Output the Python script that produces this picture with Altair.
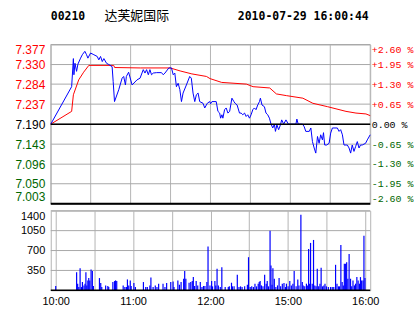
import altair as alt
import pandas as pd

# ---------------- header text ----------------
stock_code = "00210"
stock_name = "达芙妮国际"
timestamp = "2010-07-29 16:00:44"

# ---------------- axes ----------------
prev_close = 7.19
price_ticks = [7.003, 7.050, 7.096, 7.143, 7.190, 7.237, 7.284, 7.330, 7.377]
pct_ticks = [-2.60, -1.95, -1.30, -0.65, 0.00, 0.65, 1.30, 1.95, 2.60]
vol_ticks = [350, 700, 1050, 1400]
grid_minutes = [0, 30, 60, 90, 120, 150, 180, 210, 240]
time_tick_minutes = [0, 60, 120, 180, 240]
time_tick_labels = ["10:00", "11:00", "12:00", "15:00", "16:00"]

# ---------------- series (minute of session, value) ----------------
price_points = [
    (0, 7.190), (15.7, 7.278), (17.0, 7.344), (17.4, 7.306), (18.2, 7.333), (19.4, 7.314),
    (20.4, 7.331), (22.4, 7.345), (23.7, 7.353), (25.6, 7.361), (26.9, 7.353), (27.9, 7.345),
    (29.9, 7.357), (32.4, 7.353), (34.9, 7.349), (36.1, 7.341), (37.4, 7.349), (38.7, 7.337),
    (39.9, 7.344), (41.9, 7.333), (43.6, 7.330), (46.1, 7.325), (46.9, 7.290), (47.9, 7.243),
    (51.1, 7.271), (53.6, 7.298), (54.8, 7.302), (56.1, 7.282), (56.8, 7.302), (58.5, 7.312),
    (61.1, 7.282), (64.8, 7.294), (67.1, 7.298), (69.5, 7.318), (70.8, 7.310), (72.0, 7.318),
    (73.3, 7.306), (74.5, 7.318), (75.7, 7.306), (77.0, 7.310), (79.5, 7.311), (83.2, 7.311),
    (84.5, 7.306), (85.8, 7.310), (88.7, 7.322), (90.7, 7.322), (92.0, 7.306), (93.2, 7.310),
    (94.4, 7.278), (95.7, 7.286), (97.0, 7.271), (98.2, 7.243), (99.4, 7.263), (101.9, 7.282),
    (104.4, 7.302), (105.6, 7.298), (106.9, 7.263), (108.2, 7.243), (109.4, 7.259), (110.7, 7.263),
    (111.9, 7.243), (114.4, 7.239), (115.7, 7.228), (117.6, 7.239), (119.4, 7.243), (120.1, 7.238),
    (121.1, 7.243), (124.3, 7.243), (125.6, 7.220), (126.9, 7.216), (127.6, 7.204), (128.6, 7.212),
    (129.3, 7.204), (130.6, 7.224), (131.8, 7.228), (133.1, 7.216), (134.4, 7.220), (136.1, 7.251),
    (137.6, 7.243), (138.5, 7.239), (140.0, 7.235), (141.8, 7.216), (143.0, 7.216), (144.3, 7.212),
    (145.6, 7.216), (146.8, 7.208), (148.0, 7.212), (149.3, 7.204), (150.5, 7.212), (151.8, 7.224),
    (153.0, 7.228), (154.2, 7.224), (155.5, 7.235), (156.8, 7.243), (157.5, 7.251), (158.7, 7.235),
    (160.5, 7.231), (161.7, 7.216), (163.0, 7.212), (164.3, 7.204), (165.5, 7.190), (166.8, 7.181),
    (168.0, 7.190), (168.8, 7.173), (169.9, 7.188), (171.2, 7.177), (172.5, 7.188), (173.5, 7.200),
    (175.0, 7.190), (176.7, 7.200), (178.5, 7.190), (184.2, 7.190), (184.9, 7.202), (185.9, 7.190),
    (189.2, 7.190), (190.4, 7.184), (191.6, 7.173), (194.2, 7.173), (195.4, 7.181), (196.6, 7.149),
    (197.9, 7.134), (199.1, 7.122), (200.4, 7.161), (201.6, 7.145), (202.8, 7.165), (204.1, 7.153),
    (204.9, 7.170), (205.8, 7.141), (207.3, 7.141), (209.1, 7.145), (210.3, 7.169), (211.6, 7.181),
    (215.3, 7.181), (216.6, 7.173), (217.8, 7.177), (219.1, 7.165), (220.3, 7.141), (222.8, 7.141),
    (224.1, 7.134), (225.3, 7.122), (226.5, 7.141), (227.8, 7.126), (229.0, 7.137), (230.3, 7.149),
    (231.6, 7.134), (232.7, 7.141), (234.0, 7.141), (236.5, 7.145), (237.8, 7.153), (240, 7.165),
]

avg_points = [
    (0, 7.190), (15.7, 7.220), (17.0, 7.259), (21.0, 7.294), (24.7, 7.312), (28.6, 7.328),
    (47.3, 7.328), (48.0, 7.323), (67.3, 7.322), (89.7, 7.322), (97.2, 7.315), (106.0, 7.308),
    (117.0, 7.302), (119.6, 7.297), (128.4, 7.288), (147.0, 7.284), (152.0, 7.278), (164.5, 7.275),
    (169.5, 7.261), (177.0, 7.257), (189.4, 7.251), (196.9, 7.239), (208.0, 7.231), (221.8, 7.220),
    (229.3, 7.216), (236.8, 7.214), (240, 7.210),
]

volume_points = [
    (0, 76), (16.2, 320), (17.0, 117), (17.9, 58), (18.9, 390), (20.0, 58), (20.7, 146),
    (21.9, 87), (22.7, 117), (23.4, 320), (24.1, 87), (24.9, 175), (25.6, 216), (26.4, 175),
    (27.4, 367), (28.4, 338), (29.2, 76), (33.9, 216), (34.9, 128), (35.7, 58), (38.7, 87),
    (40.4, 76), (41.1, 58), (44.3, 146), (45.6, 163), (46.4, 175), (47.3, 163), (52.3, 87),
    (53.6, 58), (54.8, 58), (55.6, 192), (56.6, 87), (57.8, 175), (58.5, 76), (60.6, 128),
    (61.8, 58), (68.0, 146), (69.8, 58), (71.0, 58), (73.0, 87), (73.8, 228), (75.5, 58),
    (77.2, 87), (78.5, 58), (79.8, 117), (83.2, 117), (84.7, 58), (86.0, 128), (89.2, 146),
    (91.0, 157), (91.7, 58), (94.7, 175), (95.9, 99), (97.2, 146), (99.2, 204), (100.0, 338),
    (100.9, 204), (103.4, 134), (104.7, 146), (105.9, 163), (106.7, 233), (107.7, 76),
    (108.9, 163), (110.1, 87), (112.1, 146), (113.4, 58), (114.6, 76), (115.7, 76), (117.2, 146),
    (118.1, 770), (119.6, 87), (120.9, 163), (121.6, 70), (123.4, 163), (124.1, 87), (125.1, 379),
    (126.1, 87), (127.6, 58), (128.8, 408), (131.4, 58), (133.8, 58), (134.6, 70), (136.3, 134),
    (137.0, 70), (138.3, 70), (140.8, 274), (142.1, 58), (143.3, 70), (144.5, 58), (146.5, 70),
    (148.6, 99), (149.5, 583), (150.8, 58), (152.0, 70), (153.3, 58), (154.5, 117), (155.7, 70),
    (157.0, 117), (157.8, 146), (158.5, 163), (159.5, 87), (160.7, 70), (162.0, 274), (163.2, 117),
    (164.0, 163), (165.0, 70), (166.2, 1050), (166.9, 437), (167.7, 99), (168.4, 390), (169.5, 204),
    (170.7, 58), (172.0, 87), (173.2, 216), (174.4, 70), (175.7, 117), (177.0, 128), (178.2, 58),
    (178.9, 117), (180.2, 70), (181.5, 163), (182.7, 87), (183.9, 117), (184.9, 338), (186.4, 70),
    (187.7, 192), (188.6, 87), (190.1, 1330), (191.2, 146), (191.9, 87), (193.1, 70), (194.4, 117),
    (195.1, 87), (196.1, 729), (196.9, 117), (197.6, 834), (198.9, 117), (199.9, 886), (200.9, 87),
    (201.9, 70), (202.8, 379), (203.9, 70), (204.9, 117), (205.8, 397), (206.9, 70), (207.9, 87),
    (208.8, 117), (209.9, 70), (211.4, 58), (213.1, 58), (214.4, 58), (215.6, 58), (217.0, 449),
    (218.1, 117), (219.3, 70), (220.0, 70), (221.1, 799), (222.1, 146), (223.0, 87), (223.8, 466),
    (224.8, 466), (225.6, 496), (226.5, 204), (227.5, 641), (228.6, 204), (229.5, 70), (230.5, 175),
    (231.6, 87), (232.5, 117), (233.5, 233), (234.5, 175), (235.5, 117), (236.3, 233), (237.2, 175),
    (238.3, 175), (239.0, 962), (239.8, 216),
]

RED = "#ff0000"
GREEN = "#006600"
BLUE = "#0000ff"
GRID = "#b4b4b4"
HGRID = "#a8a8a8"

price_df = pd.DataFrame(price_points, columns=["minute", "price"])
avg_df = pd.DataFrame(avg_points, columns=["minute", "avg"])
vol_df = pd.DataFrame(volume_points, columns=["minute", "volume"])
pct_df = pd.DataFrame({"pct": pct_ticks})
ref_df = pd.DataFrame({"ref": [prev_close, price_ticks[0]], "w": [1.5, 2.0]})
pgrid_df = pd.DataFrame({"gp": price_ticks, "gw": [1.0] * len(price_ticks)})
vgrid_df = pd.DataFrame({"gv": vol_ticks, "gw": [1.0] * len(vol_ticks)})
xgrid_df = pd.DataFrame({"gm": grid_minutes})
header_df = pd.DataFrame({"t": [0]})

W = 321
PH = 160
VH = 80

x_scale = alt.Scale(domain=[0, 240], nice=False, zero=False)
p_scale = alt.Scale(domain=[price_ticks[0], price_ticks[-1]], nice=False, zero=False)
v_scale = alt.Scale(domain=[0, vol_ticks[-1]], nice=False, zero=False)

lbl_js = "[" + ",".join(f"'{s}'" for s in time_tick_labels) + "]"
min_js = "[" + ",".join(str(m) for m in time_tick_minutes) + "]"
time_label_expr = (
    f"indexof({min_js}, datum.value) >= 0 ? {lbl_js}[indexof({min_js}, datum.value)] : ''"
)

price_axis = alt.Axis(
    values=price_ticks, tickCount=50, labelExpr="format(datum.value, '.3f')", title=None,
    domain=False, ticks=False, grid=False,
    labelFlush=True, labelOverlap=False,
    labelPadding=6, labelFont="Liberation Sans", labelFontSize=12,
    labelColor={
        "condition": [
            {"test": f"datum.value > {prev_close + 0.0001}", "value": RED},
            {"test": f"datum.value < {prev_close - 0.0001}", "value": GREEN},
        ],
        "value": "#000000",
    },
)

pct_axis = alt.Axis(
    orient="right", values=pct_ticks, tickCount=50, title=None, domain=False, ticks=False,
    grid=False, labelFlush=True, labelOverlap=False, labelPadding=1,
    labelFont="Liberation Mono", labelFontSize=10,
    labelExpr="(datum.value > 0.001 ? '+' : datum.value < -0.001 ? '-' : '\u00a0') + format(abs(datum.value), '.2f') + '\u00a0%'",
    labelColor={
        "condition": [
            {"test": "datum.value > 0.001", "value": RED},
            {"test": "datum.value < -0.001", "value": GREEN},
        ],
        "value": "#000000",
    },
)

# grid lines (price panel) – drawn like the black reference rules, which do render
p_hgrid = alt.Chart(pgrid_df).mark_rule(color=HGRID).encode(
    y=alt.Y("gp:Q", scale=p_scale),
    strokeWidth=alt.StrokeWidth("gw:Q", scale=None, legend=None),
)
p_vgrid = alt.Chart(xgrid_df).mark_rule(color=GRID, strokeWidth=1).encode(
    x=alt.X("gm:Q", scale=x_scale, axis=None),
)
red_line = alt.Chart(avg_df).mark_line(color=RED, strokeWidth=1).encode(
    x=alt.X("minute:Q", scale=x_scale, axis=None),
    y=alt.Y("avg:Q", scale=p_scale, axis=price_axis),
)
blue_line = alt.Chart(price_df).mark_line(color=BLUE, strokeWidth=1).encode(
    x=alt.X("minute:Q", scale=x_scale, axis=None),
    y=alt.Y("price:Q", scale=p_scale),
)
ref_rules = alt.Chart(ref_df).mark_rule(color="#000000").encode(
    y=alt.Y("ref:Q", scale=p_scale),
    strokeWidth=alt.StrokeWidth("w:Q", scale=None, legend=None),
)

hdr_font = "DejaVu Sans Mono"
hdr_code = alt.Chart(header_df).mark_text(
    text=stock_code, align="left", baseline="middle", font=hdr_font,
    fontWeight="bold", fontSize=11.5, color="#000000",
).encode(x=alt.value(0), y=alt.value(-28))
hdr_name = alt.Chart(header_df).mark_text(
    text=stock_name, align="left", baseline="middle", font="Noto Sans CJK SC",
    fontSize=13, color="#000000",
).encode(x=alt.value(54), y=alt.value(-28.5))
hdr_time = alt.Chart(header_df).mark_text(
    text=timestamp, align="left", baseline="middle", font=hdr_font,
    fontWeight="bold", fontSize=11.5, color="#000000",
).encode(x=alt.value(188), y=alt.value(-28))

price_inner = alt.layer(p_vgrid, p_hgrid, red_line, blue_line, ref_rules, hdr_code, hdr_name, hdr_time)

pct_layer = alt.Chart(pct_df).mark_point(opacity=0).encode(
    y=alt.Y("pct:Q", scale=alt.Scale(domain=[pct_ticks[0], pct_ticks[-1]], nice=False, zero=False), axis=pct_axis),
)

price_chart = alt.layer(price_inner, pct_layer).resolve_scale(y="independent").properties(width=W, height=PH)

# volume panel
v_hgrid = alt.Chart(vgrid_df).mark_rule(color=HGRID).encode(
    y=alt.Y("gv:Q", scale=v_scale),
    strokeWidth=alt.StrokeWidth("gw:Q", scale=None, legend=None),
)
vol_bars = alt.Chart(vol_df).mark_bar(color=BLUE, width=1.2).encode(
    x=alt.X("minute:Q", scale=x_scale, axis=alt.Axis(
        values=grid_minutes, tickCount=50, labelExpr=time_label_expr, title=None, domain=False,
        ticks=False, grid=True, gridColor=GRID, gridWidth=1, labelFlush=False, labelOverlap=False,
        labelPadding=5, labelFont="Liberation Sans", labelFontSize=11, labelColor="#000000",
    )),
    y=alt.Y("volume:Q", scale=v_scale, axis=alt.Axis(
        values=vol_ticks, tickCount=50, labelExpr="format(datum.value, 'd')", title=None,
        domain=False, ticks=False, grid=False,
        labelFlush=True, labelOverlap=False,
        labelPadding=6, labelFont="Liberation Sans", labelFontSize=11, labelColor="#000000",
    )),
)
vol_base = alt.Chart(pd.DataFrame({"v0": [0]})).mark_rule(color="#000000", strokeWidth=1.5).encode(
    y=alt.Y("v0:Q", scale=v_scale),
)
vol_chart = alt.layer(v_hgrid, vol_bars, vol_base).properties(width=W, height=VH)

chart = alt.vconcat(price_chart, vol_chart, spacing=2).properties(
    padding={"left": 14, "top": 9, "right": 0, "bottom": 0},
    background="#ffffff",
).configure_view(stroke=GRID, strokeWidth=1)

chart.save("out.html", embed_options={"renderer": "svg", "actions": False})
